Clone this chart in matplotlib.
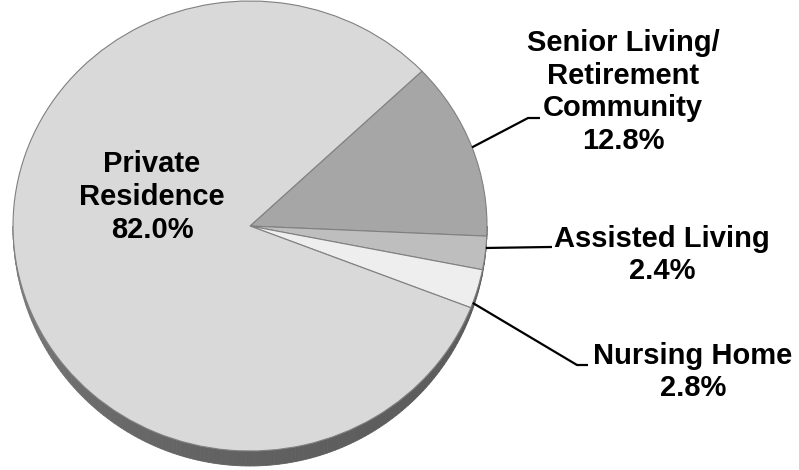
import matplotlib
matplotlib.use("Agg")
import matplotlib.pyplot as plt
import numpy as np
from matplotlib.patches import Polygon

# --- données ---
categories = ["Senior Living/\nRetirement\nCommunity", "Assisted Living", "Nursing Home", "Private\nResidence"]
values = [12.8, 2.4, 2.8, 82.0]
colors = ["#a6a6a6", "#bebebe", "#eeeeee", "#d9d9d9"]

# position des étiquettes (pixels) et point d'accroche sur la part (fraction de theta1 -> theta2)
label_px = [(623, 92), (662, 255), (693, 372), (152, 197)]
anchor_frac = [0.5, 0.65, 0.13]
elbow_px = [(528, 118), (550, 247), (577, 365)]
end_px = [(540, 118), (552, 247), (588, 365)]

# ellipse du camembert en pixels : centre, rayons, épaisseur
cx, cy, rx, ry, depth = 250, 226, 237, 225, 15
W, H = 799, 470


def px2d(px, py):
    return (px - cx) / rx, (cy - py) / ry


fig = plt.figure(figsize=(W / 100, H / 100), dpi=100)
ax = fig.add_axes([0, 0, 1, 1])

wedges, _ = ax.pie(values, colors=colors, startangle=43.5, counterclock=False,
                   wedgeprops=dict(edgecolor="#808080", linewidth=0.8, zorder=3))

# tranche 3D sous le disque, plus fine sur les côtés
d = depth / ry
t = np.linspace(np.pi, 2 * np.pi, 181)
for i in range(len(t) - 1):
    a, b = t[i], t[i + 1]
    da = d * max(-np.sin(a), 0) ** 0.8
    db = d * max(-np.sin(b), 0) ** 0.8
    pts = [(np.cos(a), np.sin(a)), (np.cos(b), np.sin(b)),
           (np.cos(b), np.sin(b) - db), (np.cos(a), np.sin(a) - da)]
    u = i / (len(t) - 2)
    g = 0.36 + 0.16 * (1 - u) ** 3
    ax.add_patch(Polygon(pts, closed=True, facecolor=(g, g, g), edgecolor=(g, g, g),
                         linewidth=0.6, zorder=1))

ax.set_aspect("auto")
ax.set_xlim(px2d(0, 0)[0], px2d(W, 0)[0])
ax.set_ylim(px2d(0, H)[1], px2d(0, 0)[1])
ax.axis("off")

fnt = dict(family=["Liberation Sans", "DejaVu Sans"], fontsize=21, fontweight="bold")

for i, (cat, val) in enumerate(zip(categories, values)):
    lx, ly = px2d(*label_px[i])
    ax.text(lx, ly, f"{cat}\n{val:.1f}%", ha="center", va="center",
            linespacing=1.21, zorder=5, **fnt)
    if i < len(anchor_frac):
        w = wedges[i]
        ang = np.deg2rad(w.theta1 + anchor_frac[i] * (w.theta2 - w.theta1))
        x0, y0 = np.cos(ang), np.sin(ang)
        x1, y1 = px2d(*elbow_px[i])
        x2, y2 = px2d(*end_px[i])
        ax.plot([x0, x1, x2], [y0, y1, y2], color="black", linewidth=1.6, zorder=4,
                solid_capstyle="butt")

fig.savefig("out.png", dpi=100)
